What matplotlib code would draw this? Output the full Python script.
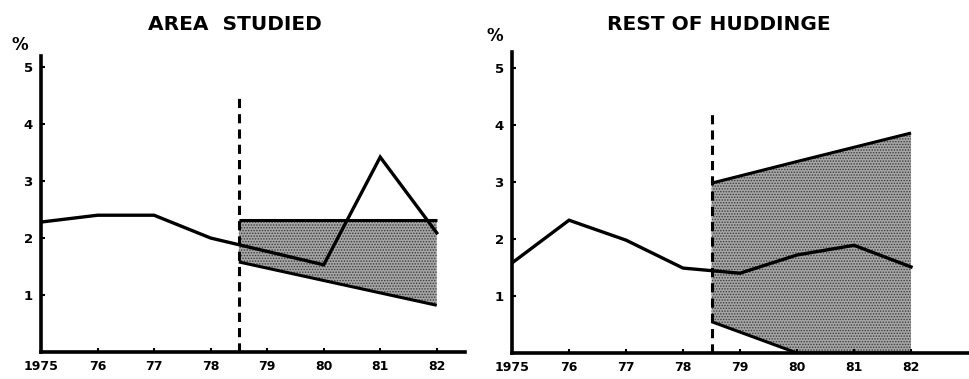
import matplotlib
matplotlib.use("Agg")
import matplotlib.pyplot as plt

plt.rcParams["font.family"] = "DejaVu Sans"
plt.rcParams["hatch.linewidth"] = 0.7

years = [1975, 1976, 1977, 1978, 1979, 1980, 1981, 1982]
year_labels = ["1975", "76", "77", "78", "79", "80", "81", "82"]
forecast_start = 1978.5

# area studied
area_years = [1975, 1976, 1977, 1978, 1980, 1981, 1982]
area_vals = [2.28, 2.40, 2.40, 2.00, 1.53, 3.42, 2.09]
area_band_x = [1978.5, 1982]
area_band_hi = [2.32, 2.32]
area_band_lo = [1.58, 0.82]

# rest of Huddinge
rest_years = [1975, 1976, 1977, 1978, 1979, 1980, 1981, 1982]
rest_vals = [1.58, 2.33, 1.98, 1.49, 1.40, 1.72, 1.89, 1.51]
rest_band_x = [1978.5, 1980, 1981, 1982]
rest_band_hi = [2.98, 3.36, 3.61, 3.86]
rest_band_lo = [0.55, 0.0, 0.0, 0.0]

fig = plt.figure(figsize=(9.69, 3.79), dpi=100)

panels = [
    ("AREA  STUDIED", 235, [0.0423, 0.0712, 0.4376, 0.782], (1975, 1982.5), 5.2,
     area_years, area_vals, area_band_x, area_band_hi, area_band_lo, 4.55,
     (20, 45)),
    ("REST OF HUDDINGE", 719, [0.5284, 0.0686, 0.4706, 0.794], (1975, 1983), 5.28,
     rest_years, rest_vals, rest_band_x, rest_band_hi, rest_band_lo, 4.25,
     (495, 36)),
]

for (title, tx, rect, xl, ytop, xs, ys, bx, bhi, blo, dash_top, pct) in panels:
    ax = fig.add_axes(rect)
    ax.set_xlim(*xl)
    ax.set_ylim(0, ytop)
    for s in ["top", "right"]:
        ax.spines[s].set_visible(False)
    for s in ["left", "bottom"]:
        ax.spines[s].set_linewidth(2.6)

    ax.fill_between(bx, blo, bhi, facecolor="#a6a6a6", edgecolor="#3a3a3a",
                    hatch="......", lw=0)
    ax.plot(bx, bhi, color="black", lw=2.2, solid_capstyle="butt")
    ax.plot(bx, blo, color="black", lw=2.2, solid_capstyle="butt")
    ax.plot(xs, ys, color="black", lw=2.4, solid_joinstyle="miter")
    ax.plot([forecast_start, forecast_start], [0, dash_top], color="black",
            lw=2.2, ls=(0, (3, 2)))

    ax.set_xticks(years)
    ax.set_xticklabels(year_labels, fontsize=9, fontweight="bold")
    ax.set_yticks([1, 2, 3, 4, 5])
    ax.set_yticklabels(["1", "2", "3", "4", "5"], fontsize=9.5,
                       fontweight="bold")
    ax.tick_params(direction="in", length=3, width=1.5, pad=6)
    fig.text(tx / 969, 1 - 25 / 379, title, fontsize=14.5, fontweight="bold",
             ha="center", va="center")
    fig.text(pct[0] / 969, 1 - pct[1] / 379, "%", fontsize=12,
             fontweight="bold", ha="center", va="center")

fig.savefig("out.png", dpi=100, facecolor="white")
plt.close(fig)
